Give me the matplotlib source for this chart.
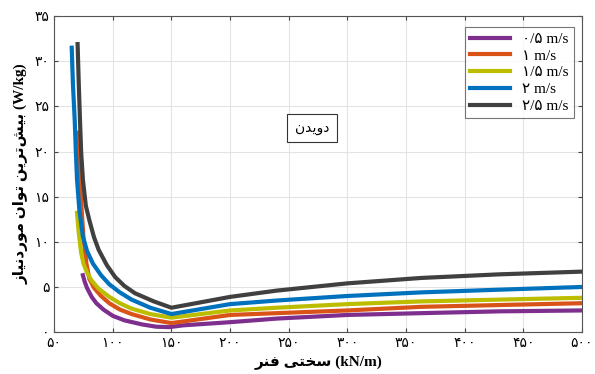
import numpy as np
import matplotlib
matplotlib.use('Agg')
import matplotlib.pyplot as plt

plt.rcParams['font.family'] = ['Liberation Serif', 'DejaVu Sans']

# spring stiffness (kN/m) and peak required power (W/kg) for each speed
k_05 = [74.5, 76, 78, 82, 86, 92, 100, 110, 125, 137, 148, 160, 200, 240, 300, 363, 430, 500]
p_05 = [6.3, 5.6, 4.9, 3.9, 3.2, 2.5, 1.8, 1.3, 0.85, 0.6, 0.55, 0.75, 1.1, 1.5, 1.9, 2.1, 2.3, 2.4]

k_10 = [71, 72, 73, 75, 77.5, 80, 84, 90, 97, 106, 116, 132, 150, 200, 240, 300, 363, 430, 500]
p_10 = [22.1, 17.5, 14.5, 10.5, 7.6, 5.9, 4.9, 4.0, 3.2, 2.5, 2.0, 1.4, 1.0, 1.9, 2.1, 2.4, 2.8, 3.0, 3.2]

k_15 = [69.5, 71, 73, 75, 78, 82, 88, 97, 106, 116, 132, 150, 200, 240, 300, 363, 430, 500]
p_15 = [13.2, 11.0, 8.8, 7.6, 6.6, 5.7, 4.8, 3.9, 3.2, 2.6, 2.0, 1.6, 2.4, 2.7, 3.1, 3.4, 3.6, 3.8]

k_20 = [65, 66, 67.5, 68.5, 69.5, 71.5, 74.5, 78, 83, 90, 97, 106, 116, 132, 150, 200, 240, 300, 363, 430, 500]
p_20 = [31.5, 27.5, 23.6, 20.0, 16.9, 13.5, 10.6, 9.0, 7.6, 6.3, 5.3, 4.4, 3.6, 2.7, 2.0, 3.1, 3.5, 4.0, 4.4, 4.7, 5.0]

k_25 = [70, 71, 72, 73, 74.5, 77, 80, 84, 88, 95, 102, 110, 119, 135, 150, 200, 240, 300, 363, 430, 500]
p_25 = [31.9, 27.5, 23.6, 20.0, 16.9, 14.0, 12.4, 10.5, 9.1, 7.4, 6.1, 5.1, 4.3, 3.4, 2.7, 3.9, 4.6, 5.4, 6.0, 6.4, 6.7]

speed_labels = ['۰/۵ m/s', '۱ m/s', '۱/۵ m/s', '۲ m/s', '۲/۵ m/s']
colors = ['#7E2F8E', '#D95319', '#BDBD00', '#0072BD', '#404040']

x_ticks = [50, 100, 150, 200, 250, 300, 350, 400, 450, 500]
y_ticks = [0, 5, 10, 15, 20, 25, 30, 35]

# simple persian shaping (matplotlib has no bidi / joining support)
FORMS = {
    'ا': ('\uFE8D', '\uFE8E'), 'د': ('\uFEA9', '\uFEAA'),
    'ر': ('\uFEAD', '\uFEAE'), 'ز': ('\uFEAF', '\uFEB0'),
    'و': ('\uFEED', '\uFEEE'),
    'ب': ('\uFE8F', '\uFE90', '\uFE91', '\uFE92'),
    'ت': ('\uFE95', '\uFE96', '\uFE97', '\uFE98'),
    'خ': ('\uFEA5', '\uFEA6', '\uFEA7', '\uFEA8'),
    'س': ('\uFEB1', '\uFEB2', '\uFEB3', '\uFEB4'),
    'ش': ('\uFEB5', '\uFEB6', '\uFEB7', '\uFEB8'),
    'ف': ('\uFED1', '\uFED2', '\uFED3', '\uFED4'),
    'م': ('\uFEE1', '\uFEE2', '\uFEE3', '\uFEE4'),
    'ن': ('\uFEE5', '\uFEE6', '\uFEE7', '\uFEE8'),
    'ی': ('\uFBFC', '\uFBFD', '\uFBFE', '\uFBFF'),
}

def shape(text):
    out = []
    for i, c in enumerate(text):
        if c not in FORMS:
            if c != '\u200c':
                out.append(c)
            continue
        prev = text[i-1] if i > 0 else ''
        nxt = text[i+1] if i < len(text) - 1 else ''
        jp = prev in FORMS and len(FORMS[prev]) == 4
        jn = len(FORMS[c]) == 4 and nxt in FORMS
        f = FORMS[c]
        if jp and jn:
            out.append(f[3])
        elif jp:
            out.append(f[1])
        elif jn:
            out.append(f[2])
        else:
            out.append(f[0])
    return ''.join(reversed(out))

fig, ax = plt.subplots(figsize=(5.95, 3.74), dpi=100)
fig.subplots_adjust(left=0.091, right=0.978, bottom=0.112, top=0.957)

series = [(k_05, p_05), (k_10, p_10), (k_15, p_15), (k_20, p_20), (k_25, p_25)]
for (k, p), c, lab in zip(series, colors, speed_labels):
    ax.plot(k, p, color=c, lw=3, label=lab, solid_joinstyle='round')

ax.set_xlim(50, 500)
ax.set_ylim(0, 35)
ax.set_xticks(x_ticks)
ax.set_yticks(y_ticks)
fa = str.maketrans('0123456789', '۰۱۲۳۴۵۶۷۸۹')
ax.set_xticklabels([str(v).translate(fa) for v in x_ticks], fontsize=10)
ax.set_yticklabels([str(v).translate(fa) for v in y_ticks], fontsize=10)
ax.tick_params(direction='in', top=True, right=True, length=3, color='#444444')
ax.grid(True, color='#e3e3e3', lw=0.8)
ax.set_axisbelow(True)
for s in ax.spines.values():
    s.set_color('#555555')

ax.set_xlabel(shape('سختی فنر') + ' (kN/m)', fontsize=11, fontweight='bold')
ax.set_ylabel(shape('بیش\u200cترین توان موردنیاز') + ' (W/kg)', fontsize=11, fontweight='bold')

ax.text(270, 22.6, shape('دویدن'), fontsize=10, ha='center', va='center',
        bbox=dict(boxstyle='square,pad=0.55', fc='white', ec='#333333', lw=0.8))

leg = ax.legend(loc='upper right', fontsize=11, handlelength=2.6, frameon=True,
                fancybox=False, edgecolor='#555555', borderpad=0.35,
                labelspacing=0.2, bbox_to_anchor=(1.0, 0.99))
leg.get_frame().set_linewidth(0.8)

fig.savefig('out.png', dpi=100)
